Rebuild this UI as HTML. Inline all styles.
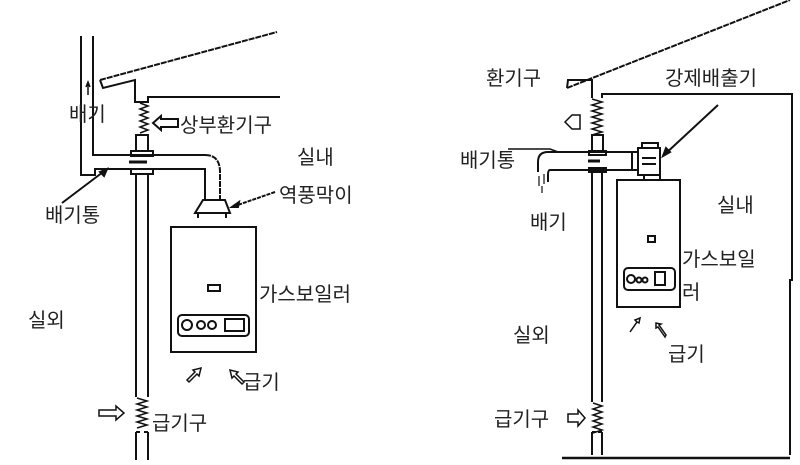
<!DOCTYPE html>
<html><head><meta charset="utf-8"><style>
html,body{margin:0;padding:0;background:#fff}
svg{display:block}
text{font-family:"Liberation Sans","Noto Sans CJK KR","NanumGothic",sans-serif;font-size:20px;fill:#222}
</style></head><body>
<svg width="800" height="465" viewBox="0 0 800 465" xmlns="http://www.w3.org/2000/svg" fill="none" stroke="#111" stroke-width="2">
<!-- LEFT DIAGRAM -->
<path d="M81 36 V175 H95 V169 H205"/>
<path d="M93 36 V155 H205"/>
<path d="M100 80 L277 32" stroke-dasharray="6 1"/>
<path d="M100 80 L103 88 L135 80 V102 H148 V97 H280"/>
<path d="M140 103 l8 3 l-8 3 l8 3 l-8 3 l8 3 l-8 3 l8 3 l-8 3 l8 3 l-8 3" stroke-width="1.5"/>
<rect x="136" y="135" width="12" height="16"/>
<rect x="131" y="151" width="22" height="5"/>
<rect x="131" y="169" width="22" height="5"/>
<path d="M129 162 H147" stroke-width="3"/>
<path d="M136 174 V397 M148 174 V397"/>
<path d="M137 398 l10 3 l-10 3 l10 3 l-10 3 l10 3 l-10 3 l10 3 l-10 3 l10 3 l-10 3" stroke-width="1.5"/>
<path d="M136 432 V460 M148 432 V460 M136 432 H140 M144 432 H148"/>
<path d="M205 155 Q220 155 220 172 V200" stroke-dasharray="6 1"/>
<path d="M205 168 V200"/>
<path d="M203 200 H225 L230 213 H195 Z M198 213 V218 M226 213 V218"/>
<rect x="171" y="227" width="85" height="125"/>
<rect x="208" y="285" width="12" height="6"/>
<rect x="178" y="315" width="71" height="21" rx="4"/>
<circle cx="187" cy="325" r="5"/><circle cx="201" cy="325" r="4"/><circle cx="212" cy="325" r="4"/>
<rect x="225" y="319" width="19" height="12"/>
<path d="M88 95 V83 M86 87 L88 82 L90 87" stroke-width="1.5"/>
<path d="M153 123 L161 116 V119 H178 V127 H161 V130 Z"/>
<path d="M275 192 L232 207" stroke-dasharray="4 1"/>
<path d="M232 207 l7 -5 l-1 5 z" fill="#111"/>
<path d="M62 203 L107 169"/>
<path d="M107 169 l-3 7 l-4 -4 z" fill="#111"/>
<path d="M187 380 l8 -8 l-2 -2 l8 -2 l-2 8 l-2 -2 l-8 8 z" stroke-width="1.5"/>
<path d="M242 384 l-8 -8 l-2 2 l-2 -8 l8 2 l-2 2 l8 8 z" stroke-width="1.5"/>
<path d="M99 410 H116 V406 L124 413 L116 420 V416 H99 Z" stroke-width="1.5"/>

<g stroke="none">
<text x="69" y="121">배기</text>
<text x="180" y="132">상부환기구</text>
<text x="297" y="164">실내</text>
<text x="279" y="202">역풍막이</text>
<text x="45" y="222">배기통</text>
<text x="259" y="301">가스보일러</text>
<text x="28" y="327">실외</text>
<text x="243" y="389">급기</text>
<text x="152" y="430">급기구</text>
</g>

<!-- RIGHT DIAGRAM -->
<path d="M567 88 L790 0" stroke-dasharray="6 1"/>
<path d="M567 88 L568 80 L592 80 V98 M602 98 V94 H792 V280 H790 V455"/>
<path d="M562 458 H790" stroke-width="2.5"/>
<path d="M592 99 l10 3 l-10 3 l10 3 l-10 3 l10 3 l-10 3 l10 3 l-10 3 l10 3 l-10 3 l10 3 l-10 3" stroke-width="1.5"/>
<rect x="592" y="135" width="11" height="16"/>
<rect x="589" y="151" width="17" height="4"/>
<rect x="589" y="168" width="17" height="4"/>
<path d="M588 161 H600" stroke-width="3"/>
<path d="M592 172 V402 M602 172 V402"/>
<path d="M593 403 l9 3 l-9 3 l9 3 l-9 3 l9 3 l-9 3 l9 3 l-9 3 l9 3 l-9 3" stroke-width="1.5"/>
<path d="M592 432 V455 M602 432 V455 M592 432 H596 M598 432 H602"/>
<path d="M638 152 H548 Q538 152 538 162 V172"/>
<path d="M638 170 H550 Q548 170 548 175 V182"/>
<path d="M539 176 V186 M544 174 V184 M542 186 V193" stroke-width="1.2"/>
<path d="M632 152 V170"/>
<rect x="638" y="148" width="22" height="27"/>
<path d="M642 148 V143 H658 V148"/>
<path d="M642 158 H656 M642 164 H656"/>
<rect x="644" y="175" width="16" height="5"/>
<path d="M617 180 H680 V307 H617 Z"/>
<rect x="648" y="236" width="7" height="6"/>
<rect x="624" y="268" width="51" height="22" rx="4"/>
<circle cx="631" cy="279" r="4"/><circle cx="639" cy="280" r="2.5"/><circle cx="645" cy="280" r="2.5"/>
<path d="M655 272 H665 V285 H655 Z"/>
<path d="M565 122 L572 115 H580 V129 H572 Z" stroke-width="1.5"/>
<path d="M508 149 H550 L558 152" stroke-width="1.5"/>
<path d="M718 105 L663 156"/>
<path d="M663 156 l3 -8 l4 4 z" fill="#111"/>
<path d="M630 332 l7 -10 l-2 -2 l5 -2 l-1 5 l-2 -1 l-7 10 z" stroke-width="1.5"/>
<path d="M665 337 l-7 -10 l-2 1 l0 -5 l5 1 l-2 1 l7 10 z" stroke-width="1.5"/>
<path d="M568 414 H578 V410 L585 418 L578 426 V422 H568 Z" stroke-width="1.5"/>

<g stroke="none">
<text x="486" y="85">환기구</text>
<text x="665" y="85">강제배출기</text>
<text x="460" y="167">배기통</text>
<text x="530" y="229">배기</text>
<text x="717" y="212">실내</text>
<text x="682" y="266">가스보일</text>
<text x="682" y="299">러</text>
<text x="513" y="342">실외</text>
<text x="668" y="361">급기</text>
<text x="494" y="426">급기구</text>
</g>
</svg>
</body></html>
